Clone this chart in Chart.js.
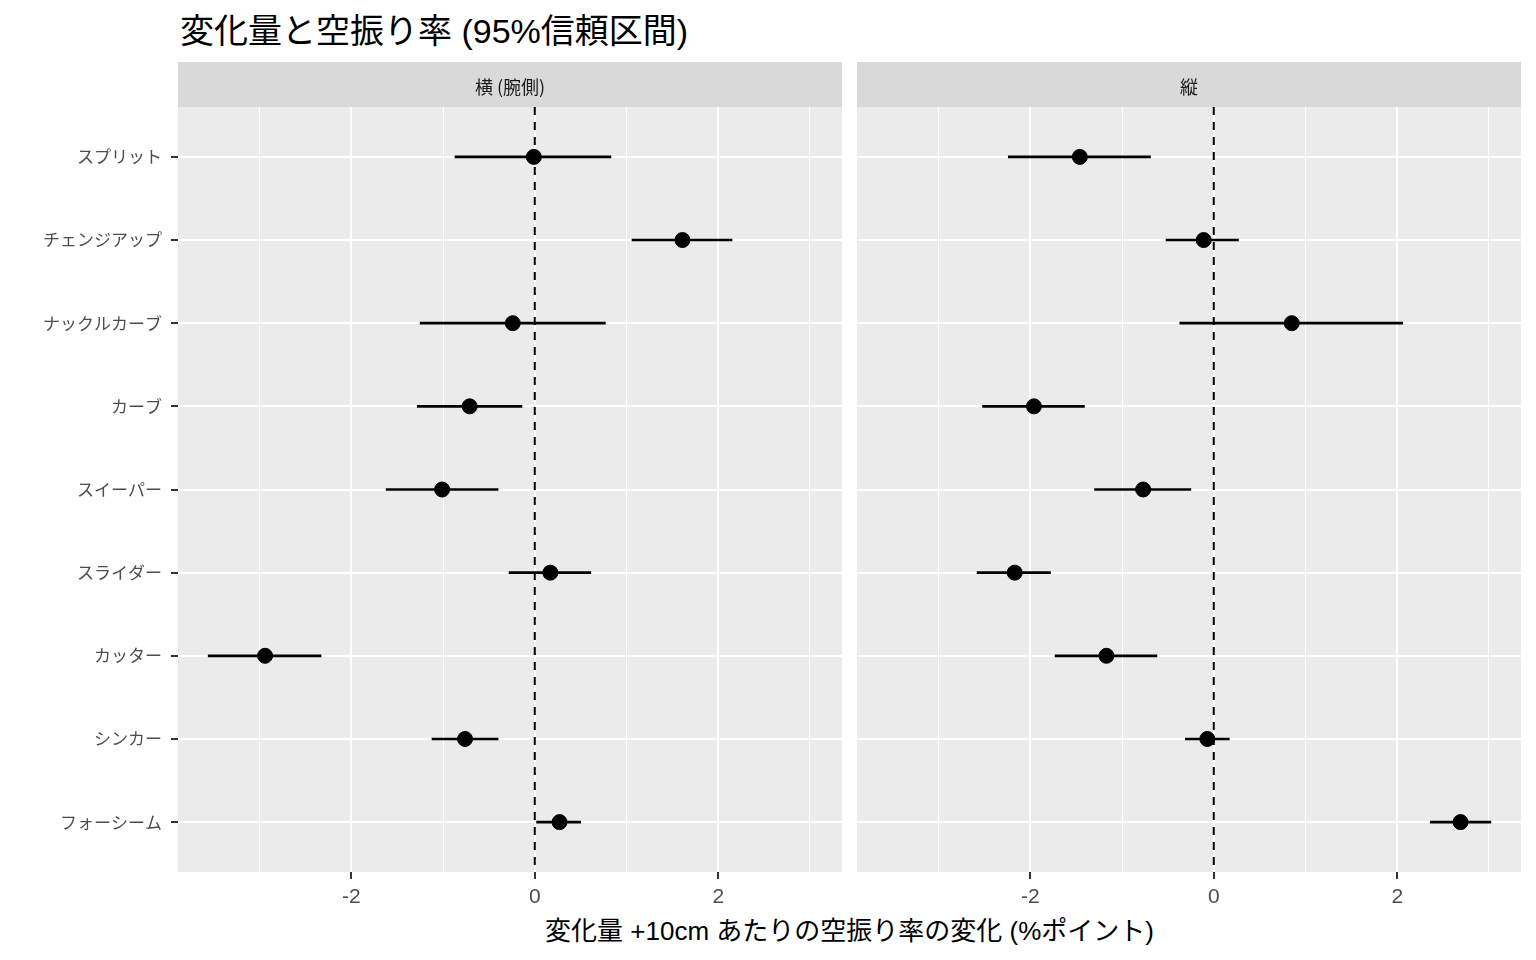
<!DOCTYPE html>
<html>
<head>
<meta charset="utf-8">
<script src="https://cdn.jsdelivr.net/npm/chart.js@4"></script>
<style>
  html, body { margin: 0; padding: 0; background: #fff; }
  body { width: 1536px; height: 960px; position: relative; overflow: hidden;
         font-family: "Liberation Sans", "Noto Sans CJK JP", sans-serif; }
  #title { position: absolute; left: 180px; top: 4px; font-size: 34px; color: #000; white-space: nowrap; }
  #xtitle { position: absolute; left: 178px; width: 1343px; top: 910px; text-align: center;
            font-size: 26px; color: #000; white-space: nowrap; }
  canvas { position: absolute; top: 62px; }
  #left { left: 0; }
  #right { left: 857px; }
</style>
</head>
<body>
<div id="title">変化量と空振り率 (95%信頼区間)</div>
<canvas id="left" width="842" height="848"></canvas>
<canvas id="right" width="664" height="848"></canvas>
<div id="xtitle">変化量 +10cm あたりの空振り率の変化 (%ポイント)</div>
<script>
// 球種 (上から順)
const pitchTypes = ['スプリット', 'チェンジアップ', 'ナックルカーブ', 'カーブ', 'スイーパー',
                    'スライダー', 'カッター', 'シンカー', 'フォーシーム'];

// 横 (腕側)
const horizEst = [-0.01, 1.61, -0.24, -0.71, -1.01, 0.17, -2.94, -0.76, 0.27];
const horizLo  = [-0.87, 1.06, -1.25, -1.28, -1.62, -0.28, -3.56, -1.12, 0.02];
const horizHi  = [0.83, 2.15, 0.77, -0.14, -0.40, 0.61, -2.33, -0.40, 0.50];

// 縦
const vertEst = [-1.46, -0.11, 0.85, -1.96, -0.77, -2.17, -1.17, -0.07, 2.69];
const vertLo  = [-2.24, -0.52, -0.37, -2.52, -1.30, -2.58, -1.73, -0.31, 2.36];
const vertHi  = [-0.69, 0.27, 2.06, -1.41, -0.25, -1.78, -0.62, 0.17, 3.02];

const xTicks = [-3, -2, -1, 0, 1, 2, 3];
const xMin = -3.889, xMax = 3.349;

const CJK = '"Noto Sans CJK JP", sans-serif';
const LATIN = '"Liberation Sans", "Noto Sans CJK JP", sans-serif';

// パネル背景・ストリップ・0 の破線
const panelPlugin = {
    id: 'panel',
    beforeDraw(chart, args, opts) {
        const a = chart.chartArea;
        const c = chart.ctx;
        c.save();
        c.fillStyle = '#ebebeb';
        c.fillRect(a.left, a.top, a.right - a.left, a.bottom - a.top);
        c.fillStyle = '#d9d9d9';
        c.fillRect(a.left, a.top - 45, a.right - a.left, 45);
        c.fillStyle = '#1a1a1a';
        c.font = '18px ' + CJK;
        c.textAlign = 'center';
        c.textBaseline = 'middle';
        c.fillText(opts.strip, (a.left + a.right) / 2, a.top - 20);
        c.restore();
    },
    beforeDatasetsDraw(chart) {
        const a = chart.chartArea;
        const c = chart.ctx;
        const x0 = chart.scales.x.getPixelForValue(0);
        c.save();
        c.strokeStyle = '#000';
        c.lineWidth = 2;
        c.setLineDash([8, 7]);
        c.beginPath();
        c.moveTo(x0, a.top);
        c.lineTo(x0, a.bottom);
        c.stroke();
        c.restore();
    }
};

function facet(canvasId, strip, est, lo, hi, showLabels) {
    const ctx = document.getElementById(canvasId);
    return new Chart(ctx, {
        type: 'bar',
        data: {
            datasets: [{
                type: 'scatter',
                data: est.map(function (v, i) { return { x: v, y: i }; }),
                backgroundColor: '#000',
                borderColor: '#000',
                pointRadius: 7.5,
                pointHoverRadius: 7.5,
                order: 0
            }, {
                type: 'bar',
                data: lo.map(function (v, i) { return { x: [v, hi[i]], y: i }; }),
                backgroundColor: '#000',
                barThickness: 2,
                order: 1
            }]
        },
        options: {
            indexAxis: 'y',
            responsive: false,
            animation: false,
            devicePixelRatio: 1,
            layout: { autoPadding: false, padding: { top: 45, right: 0, left: 0, bottom: 0 } },
            plugins: {
                legend: { display: false },
                tooltip: { enabled: false },
                panel: { strip: strip }
            },
            scales: {
                x: {
                    type: 'linear',
                    min: xMin,
                    max: xMax,
                    afterBuildTicks: function (s) { s.ticks = xTicks.map(function (v) { return { value: v }; }); },
                    afterFit: function (s) { s.height = 38; },
                    border: { display: false },
                    grid: {
                        color: '#ffffff',
                        lineWidth: function (c) { return c.tick && c.tick.value % 2 === 0 ? 2 : 1; },
                        tickColor: function (c) { return c.tick && c.tick.value % 2 === 0 ? '#333333' : 'rgba(0,0,0,0)'; },
                        tickLength: 7,
                        tickWidth: 2
                    },
                    ticks: {
                        autoSkip: false,
                        maxRotation: 0,
                        padding: 6,
                        color: '#4d4d4d',
                        font: { family: LATIN, size: 21 },
                        callback: function (v) { return v % 2 === 0 ? String(v) : ''; }
                    }
                },
                y: {
                    type: 'linear',
                    offset: false,
                    min: -0.6,
                    max: pitchTypes.length - 1 + 0.6,
                    reverse: true,
                    afterBuildTicks: function (s) { s.ticks = pitchTypes.map(function (p, i) { return { value: i }; }); },
                    afterFit: function (s) { s.width = showLabels ? 178 : 0; },
                    border: { display: false },
                    grid: {
                        offset: false,
                        color: '#ffffff',
                        lineWidth: 2,
                        drawTicks: showLabels,
                        tickColor: '#333333',
                        tickLength: 7,
                        tickWidth: 2
                    },
                    ticks: {
                        display: showLabels,
                        autoSkip: false,
                        padding: 9,
                        color: '#4d4d4d',
                        font: { family: CJK, size: 17 },
                        callback: function (v) { return pitchTypes[v]; }
                    }
                }
            }
        },
        plugins: [panelPlugin]
    });
}

facet('left', '横 (腕側)', horizEst, horizLo, horizHi, true);
facet('right', '縦', vertEst, vertLo, vertHi, false);
</script>
</body>
</html>
